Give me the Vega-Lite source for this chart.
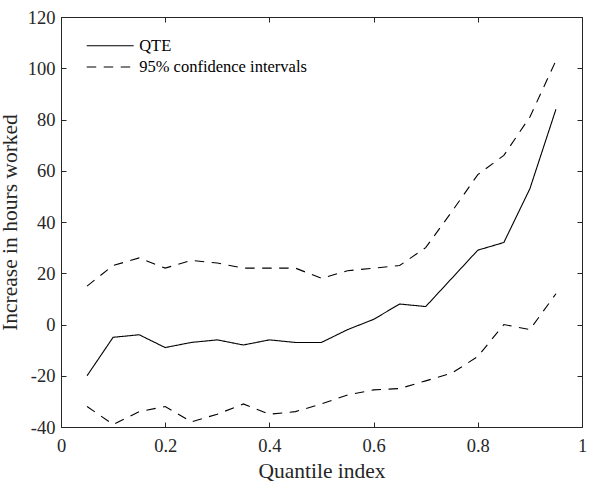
{
  "$schema": "https://vega.github.io/schema/vega-lite/v6.json",
  "width": 521,
  "height": 410,
  "autosize": {"type": "none"},
  "padding": {"left": 61, "top": 17, "right": 8, "bottom": 55},
  "background": "white",
  "config": {
    "view": {"stroke": null},
    "font": "Liberation Serif",
    "axis": {
      "grid": false,
      "domainColor": "#262626",
      "domainWidth": 1,
      "tickColor": "#262626",
      "tickWidth": 1,
      "tickSize": -5,
      "labelFont": "Liberation Serif",
      "labelFontSize": 18.5,
      "labelColor": "#262626",
      "titleFont": "Liberation Serif",
      "titleFontSize": 21.5,
      "titleFontWeight": "normal",
      "titleColor": "#262626"
    },
    "legend": {
      "labelFont": "Liberation Serif",
      "labelFontSize": 16.5,
      "labelColor": "#000000",
      "labelLimit": 0
    }
  },
  "data": {
    "values": [
      {"q": 0.05, "series": "QTE", "bound": "est", "v": -20},
      {"q": 0.10, "series": "QTE", "bound": "est", "v": -5},
      {"q": 0.15, "series": "QTE", "bound": "est", "v": -4},
      {"q": 0.20, "series": "QTE", "bound": "est", "v": -9},
      {"q": 0.25, "series": "QTE", "bound": "est", "v": -7},
      {"q": 0.30, "series": "QTE", "bound": "est", "v": -6},
      {"q": 0.35, "series": "QTE", "bound": "est", "v": -8},
      {"q": 0.40, "series": "QTE", "bound": "est", "v": -6},
      {"q": 0.45, "series": "QTE", "bound": "est", "v": -7},
      {"q": 0.50, "series": "QTE", "bound": "est", "v": -7},
      {"q": 0.55, "series": "QTE", "bound": "est", "v": -2},
      {"q": 0.60, "series": "QTE", "bound": "est", "v": 2},
      {"q": 0.65, "series": "QTE", "bound": "est", "v": 8},
      {"q": 0.70, "series": "QTE", "bound": "est", "v": 7},
      {"q": 0.75, "series": "QTE", "bound": "est", "v": 18},
      {"q": 0.80, "series": "QTE", "bound": "est", "v": 29},
      {"q": 0.85, "series": "QTE", "bound": "est", "v": 32},
      {"q": 0.90, "series": "QTE", "bound": "est", "v": 53},
      {"q": 0.95, "series": "QTE", "bound": "est", "v": 84},
      {"q": 0.05, "series": "95% confidence intervals", "bound": "upper", "v": 15},
      {"q": 0.10, "series": "95% confidence intervals", "bound": "upper", "v": 23},
      {"q": 0.15, "series": "95% confidence intervals", "bound": "upper", "v": 26},
      {"q": 0.20, "series": "95% confidence intervals", "bound": "upper", "v": 22},
      {"q": 0.25, "series": "95% confidence intervals", "bound": "upper", "v": 25},
      {"q": 0.30, "series": "95% confidence intervals", "bound": "upper", "v": 24},
      {"q": 0.35, "series": "95% confidence intervals", "bound": "upper", "v": 22},
      {"q": 0.40, "series": "95% confidence intervals", "bound": "upper", "v": 22},
      {"q": 0.45, "series": "95% confidence intervals", "bound": "upper", "v": 22},
      {"q": 0.50, "series": "95% confidence intervals", "bound": "upper", "v": 18},
      {"q": 0.55, "series": "95% confidence intervals", "bound": "upper", "v": 21},
      {"q": 0.60, "series": "95% confidence intervals", "bound": "upper", "v": 22},
      {"q": 0.65, "series": "95% confidence intervals", "bound": "upper", "v": 23},
      {"q": 0.70, "series": "95% confidence intervals", "bound": "upper", "v": 30},
      {"q": 0.75, "series": "95% confidence intervals", "bound": "upper", "v": 44},
      {"q": 0.80, "series": "95% confidence intervals", "bound": "upper", "v": 58.5},
      {"q": 0.85, "series": "95% confidence intervals", "bound": "upper", "v": 66},
      {"q": 0.90, "series": "95% confidence intervals", "bound": "upper", "v": 81},
      {"q": 0.95, "series": "95% confidence intervals", "bound": "upper", "v": 103},
      {"q": 0.05, "series": "95% confidence intervals", "bound": "lower", "v": -32},
      {"q": 0.10, "series": "95% confidence intervals", "bound": "lower", "v": -39},
      {"q": 0.15, "series": "95% confidence intervals", "bound": "lower", "v": -34},
      {"q": 0.20, "series": "95% confidence intervals", "bound": "lower", "v": -32},
      {"q": 0.25, "series": "95% confidence intervals", "bound": "lower", "v": -38},
      {"q": 0.30, "series": "95% confidence intervals", "bound": "lower", "v": -35},
      {"q": 0.35, "series": "95% confidence intervals", "bound": "lower", "v": -31},
      {"q": 0.40, "series": "95% confidence intervals", "bound": "lower", "v": -35},
      {"q": 0.45, "series": "95% confidence intervals", "bound": "lower", "v": -34},
      {"q": 0.50, "series": "95% confidence intervals", "bound": "lower", "v": -31},
      {"q": 0.55, "series": "95% confidence intervals", "bound": "lower", "v": -27.5},
      {"q": 0.60, "series": "95% confidence intervals", "bound": "lower", "v": -25.5},
      {"q": 0.65, "series": "95% confidence intervals", "bound": "lower", "v": -25},
      {"q": 0.70, "series": "95% confidence intervals", "bound": "lower", "v": -22},
      {"q": 0.75, "series": "95% confidence intervals", "bound": "lower", "v": -19},
      {"q": 0.80, "series": "95% confidence intervals", "bound": "lower", "v": -12.5},
      {"q": 0.85, "series": "95% confidence intervals", "bound": "lower", "v": 0},
      {"q": 0.90, "series": "95% confidence intervals", "bound": "lower", "v": -2},
      {"q": 0.95, "series": "95% confidence intervals", "bound": "lower", "v": 12}
    ]
  },
  "layer": [
    {
      "mark": {"type": "line", "color": "#000000", "strokeWidth": 1.1},
      "encoding": {
        "x": {
          "field": "q", "type": "quantitative",
          "scale": {"domain": [0, 1], "nice": false, "zero": false},
          "axis": {
            "orient": "bottom",
            "title": "Quantile index",
            "values": [0, 0.2, 0.4, 0.6, 0.8, 1],
            "labelExpr": "'' + datum.value",
            "labelPadding": 14,
            "titlePadding": 6,
            "labelFlush": false
          }
        },
        "y": {
          "field": "v", "type": "quantitative",
          "scale": {"domain": [-40, 120], "nice": false, "zero": false},
          "axis": {
            "orient": "left",
            "title": "Increase in hours worked",
            "values": [-40, -20, 0, 20, 40, 60, 80, 100, 120],
            "labelExpr": "'' + datum.value",
            "labelPadding": 11,
            "titlePadding": 6,
            "labelFlush": false
          }
        },
        "detail": {"field": "bound"},
        "strokeDash": {
          "field": "series", "type": "nominal",
          "scale": {
            "domain": ["QTE", "95% confidence intervals"],
            "range": [[1, 0], [9.5, 7.5]]
          },
          "legend": {
            "title": null,
            "orient": "none",
            "legendX": 40.7,
            "legendY": 20.3,
            "symbolType": "M-3,0H3",
            "symbolSize": 245,
            "symbolStrokeWidth": 1.1,
            "symbolStrokeColor": "#000000",
            "labelOffset": 20.5,
            "rowPadding": 4.2
          }
        }
      }
    },
    {
      "mark": {"type": "line", "opacity": 0},
      "encoding": {
        "x": {
          "field": "q", "type": "quantitative",
          "axis": {
            "orient": "top", "title": null, "labels": false,
            "values": [0, 0.2, 0.4, 0.6, 0.8, 1]
          }
        },
        "y": {
          "field": "v", "type": "quantitative",
          "axis": {
            "orient": "right", "title": null, "labels": false,
            "values": [-40, -20, 0, 20, 40, 60, 80, 100, 120]
          }
        },
        "detail": {"field": "bound"}
      }
    }
  ],
  "resolve": {"axis": {"x": "independent", "y": "independent"}}
}
